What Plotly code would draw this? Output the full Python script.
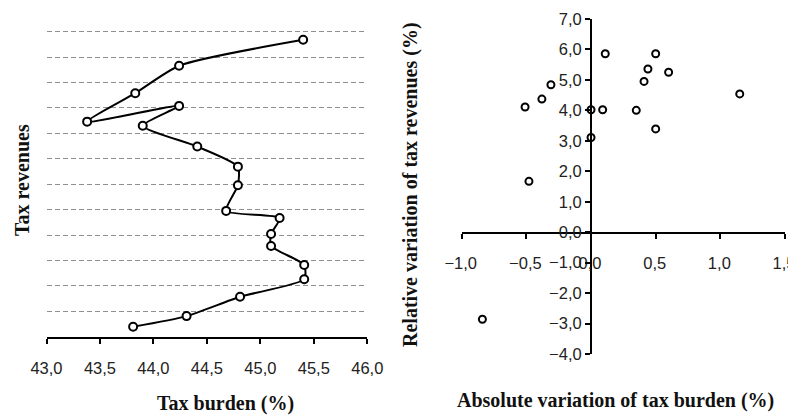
import plotly.graph_objects as go

# Left panel: tax burden (%) vs tax revenues (hidden scale), chronological order
tax_burden = [43.81, 44.31, 44.81, 45.41, 45.41, 45.10, 45.10, 45.18, 44.68,
              44.79, 44.79, 44.41, 43.90, 44.24, 43.38, 43.83, 44.24, 45.40]
tax_revenues = [0.39, 0.81, 1.57, 2.26, 2.82, 3.57, 4.04, 4.67, 4.95,
                5.96, 6.69, 7.48, 8.30, 9.08, 8.46, 9.58, 10.66, 11.68]

# Right panel: absolute variation of tax burden vs relative variation of revenues
abs_var_burden = [0.11, 0.50, 0.44, 0.60, 0.41, -0.31, -0.38, -0.51, 0.00,
                  0.09, 0.35, 1.15, 0.50, 0.00, -0.48, -0.84]
rel_var_revenues = [5.86, 5.86, 5.36, 5.25, 4.95, 4.84, 4.37, 4.11, 4.02,
                    4.02, 4.00, 4.54, 3.39, 3.11, 1.67, -2.86]

left_x_ticks = [43.0, 43.5, 44.0, 44.5, 45.0, 45.5, 46.0]
right_x_ticks = [-1.0, -0.5, 0.0, 0.5, 1.0, 1.5]
right_y_ticks = [-4.0, -3.0, -2.0, -1.0, 0.0, 1.0, 2.0, 3.0, 4.0, 5.0, 6.0, 7.0]

# page body has an 8px margin: size the figure to the remaining viewport
OFF = 8
W, H = 796 - OFF, 416 - OFF
def px(x):
    return (x - OFF) / W
def py(y):
    return 1 - (y - OFF) / H

tick_font = dict(family="Liberation Sans, Arial", size=16.5, color="#222222")
title_font = dict(family="Liberation Serif, Times New Roman", size=20, color="#111111")

fig = go.Figure()
fig.add_trace(go.Scatter(
    x=tax_burden, y=tax_revenues, mode="lines+markers",
    line=dict(color="black", width=2, shape="spline", smoothing=0.6),
    marker=dict(symbol="circle", size=8, color="white",
                line=dict(color="black", width=2)),
    xaxis="x", yaxis="y", showlegend=False, cliponaxis=False))
fig.add_trace(go.Scatter(
    x=abs_var_burden, y=rel_var_revenues, mode="markers",
    marker=dict(symbol="circle", size=7, color="white",
                line=dict(color="black", width=2)),
    xaxis="x2", yaxis="y2", showlegend=False, cliponaxis=False))

fig.update_layout(
    template="none",
    width=W, height=H,
    margin=dict(l=0, r=0, t=0, b=0, pad=0),
    paper_bgcolor="white", plot_bgcolor="white",
    separators=", ",
    xaxis=dict(domain=[px(46.5), px(367.3)], range=[43, 46],
               tickvals=left_x_ticks, tickformat=".1f",
               showline=True, linecolor="black", linewidth=2,
               ticks="outside", ticklen=5, tickwidth=2, tickcolor="black",
               ticklabelstandoff=10, automargin=False,
               ticklabeloverflow="allow",
               showgrid=False, zeroline=False, tickfont=tick_font,
               anchor="y"),
    yaxis=dict(domain=[py(336.7), py(26.6)], range=[0, 12.2],
               dtick=1, tick0=0, showticklabels=False, ticks="",
               showline=False, zeroline=False, automargin=False,
               showgrid=True, gridcolor="#8f8f8f", gridwidth=1,
               griddash="5px,3px", anchor="x"),
    xaxis2=dict(domain=[px(461.7), px(785)], range=[-1, 1.5],
                tickvals=right_x_ticks, tickformat=".1f",
                showline=True, linecolor="black", linewidth=2,
                ticks="outside", ticklen=5, tickwidth=2, tickcolor="black",
                ticklabelstandoff=10, ticklabelshift=-1, automargin=False,
                ticklabeloverflow="allow",
                showgrid=False, zeroline=False, tickfont=tick_font,
                anchor="free", position=py(232.7)),
    yaxis2=dict(domain=[py(354), py(19)], range=[-4, 7],
                tickvals=right_y_ticks, tickformat=".1f",
                showline=True, linecolor="black", linewidth=2,
                ticks="outside", ticklen=5, tickwidth=2, tickcolor="black",
                showgrid=False, zeroline=False, tickfont=tick_font,
                automargin=False, ticklabeloverflow="allow",
                anchor="free", position=px(591)),
)

annots = [
    dict(text="<b>Tax burden (%)</b>", x=px(225), y=py(403), textangle=0),
    dict(text="<b>Tax revenues</b>", x=px(22), y=py(180), textangle=-90),
    dict(text="<b>Relative variation of tax revenues (%)</b>", x=px(410), y=py(185), textangle=-90),
    dict(text="<b>Absolute variation of tax burden (%)</b>", x=px(615), y=py(400), textangle=0),
]
for a in annots:
    fig.add_annotation(xref="paper", yref="paper", showarrow=False,
                       xanchor="center", yanchor="middle", font=title_font, **a)

fig.write_html("out.html")
